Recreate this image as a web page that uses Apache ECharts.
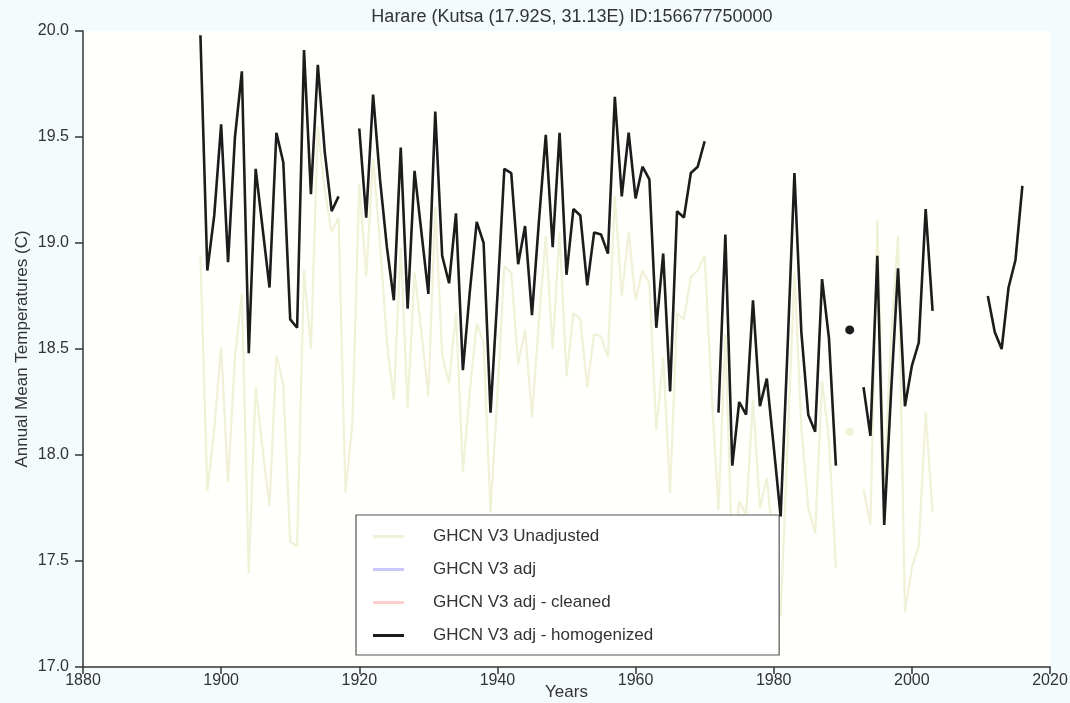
<!DOCTYPE html>
<html>
<head>
<meta charset="utf-8">
<title>Harare</title>
<script src="https://cdn.jsdelivr.net/npm/echarts@6/dist/echarts.min.js"></script>
<style>
  html, body { margin: 0; padding: 0; background: #f4fbfd; }
  #main { width: 1070px; height: 703px; }
</style>
</head>
<body>
<div id="main"></div>
<script>
// years 1897 .. 2016, null = no data
const firstYear = 1897;
const homogenized = [
  19.98, 18.87, 19.13, 19.56, 18.91, 19.50, 19.81, 18.48, 19.35, 19.07,
  18.79, 19.52, 19.38, 18.64, 18.60, 19.91, 19.23, 19.84, 19.43, 19.15,
  19.22, null, null, 19.54, 19.12, 19.70, 19.30, 18.98, 18.73, 19.45,
  18.69, 19.34, 19.05, 18.76, 19.62, 18.94, 18.81, 19.14, 18.40, 18.77,
  19.10, 19.00, 18.20, 18.75, 19.35, 19.33, 18.90, 19.08, 18.66, 19.10,
  19.51, 18.98, 19.52, 18.85, 19.16, 19.13, 18.80, 19.05, 19.04, 18.95,
  19.69, 19.22, 19.52, 19.21, 19.36, 19.30, 18.60, 18.95, 18.30, 19.15,
  19.12, 19.33, 19.36, 19.48, null, 18.20, 19.04, 17.95, 18.25, 18.19,
  18.73, 18.23, 18.36, 18.04, 17.71, 18.50, 19.33, 18.58, 18.19, 18.11,
  18.83, 18.55, 17.95, null, 18.59, null, 18.32, 18.09, 18.94, 17.67,
  18.30, 18.88, 18.23, 18.42, 18.53, 19.16, 18.68, null, null, null,
  null, null, null, null, 18.75, 18.58, 18.50, 18.79, 18.92, 19.27
];
const unadjusted = [
  18.94, 17.83, 18.12, 18.51, 17.87, 18.46, 18.76, 17.44, 18.32, 18.03,
  17.76, 18.47, 18.33, 17.59, 17.57, 18.87, 18.50, 19.55, 19.25, 19.05,
  19.12, 17.82, 18.15, 19.28, 18.84, 19.40, 19.00, 18.53, 18.26, 18.98,
  18.22, 18.86, 18.58, 18.28, 19.17, 18.47, 18.34, 18.67, 17.92, 18.30,
  18.62, 18.53, 17.73, 18.28, 18.89, 18.86, 18.43, 18.59, 18.18, 18.63,
  19.03, 18.50, 19.05, 18.37, 18.67, 18.64, 18.32, 18.57, 18.56, 18.46,
  19.22, 18.75, 19.05, 18.73, 18.87, 18.81, 18.12, 18.46, 17.82, 18.67,
  18.64, 18.84, 18.87, 18.94, 18.30, 17.74, 18.57, 17.49, 17.78, 17.72,
  18.26, 17.75, 17.89, 17.57, 17.24, 18.05, 18.86, 18.13, 17.75, 17.63,
  18.35, 18.07, 17.47, null, 18.11, null, 17.84, 17.67, 19.11, 17.84,
  18.57, 19.03, 17.26, 17.47, 17.57, 18.20, 17.73
];
const xTicks = [1880, 2020, 20];
const yTicks = [17, 20, 0.5];

const seriesNames = ['GHCN V3 Unadjusted', 'GHCN V3 adj', 'GHCN V3 adj - cleaned', 'GHCN V3 adj - homogenized'];
const seriesColors = ['#f1f1d8', '#c8c8ff', '#ffcfcf', '#1c1c1c'];

function pairs(arr) {
  return arr.map((v, i) => [firstYear + i, v]);
}
// points with no neighbour on either side are drawn as dots
function isolated(arr) {
  const out = [];
  arr.forEach((v, i) => {
    if (v == null) return;
    const prev = i > 0 ? arr[i - 1] : null;
    const next = i < arr.length - 1 ? arr[i + 1] : null;
    if (prev == null && next == null) out.push([firstYear + i, v]);
  });
  return out;
}

const chart = echarts.init(document.getElementById('main'));
const font = 'Liberation Sans, Arial, sans-serif';

chart.setOption({
  backgroundColor: '#f4fbfd',
  animation: false,
  title: {
    text: 'Harare (Kutsa (17.92S, 31.13E) ID:156677750000',
    left: 567,
    textAlign: 'center',
    top: 3,
    textStyle: { fontFamily: font, fontSize: 18, fontWeight: 'normal', color: '#333' }
  },
  grid: {
    left: 83, right: 20, top: 31, bottom: 36,
    outerBoundsMode: 'none',
    containLabel: false,
    show: true, backgroundColor: '#fffffc', borderWidth: 0
  },
  legend: {
    data: seriesNames,
    orient: 'vertical',
    left: 356,
    top: 515,
    padding: [13, 126, 11, 17],
    itemGap: 16,
    itemWidth: 31,
    itemHeight: 3,
    icon: 'rect',
    backgroundColor: '#ffffff',
    borderColor: '#555',
    borderWidth: 1.2,
    textStyle: { fontFamily: font, fontSize: 17, lineHeight: 17, color: '#333', padding: [0, 0, 0, 24] }
  },
  xAxis: {
    type: 'value',
    min: xTicks[0], max: xTicks[1], interval: xTicks[2],
    name: 'Years',
    nameLocation: 'middle',
    nameGap: 17,
    nameMoveOverlap: false,
    nameTextStyle: { fontFamily: font, fontSize: 17, color: '#333' },
    axisLine: { lineStyle: { color: '#333', width: 1.5 } },
    axisTick: { length: 7, lineStyle: { color: '#333', width: 1.5 } },
    axisLabel: { fontFamily: font, fontSize: 16, color: '#333', margin: 6, formatter: v => String(v) },
    splitLine: { show: false }
  },
  yAxis: {
    type: 'value',
    min: yTicks[0], max: yTicks[1], interval: yTicks[2],
    name: 'Annual Mean Temperatures (C)',
    nameLocation: 'middle',
    nameGap: 52,
    nameMoveOverlap: false,
    nameTextStyle: { fontFamily: font, fontSize: 17, color: '#333' },
    axisLine: { show: true, lineStyle: { color: '#333', width: 1.5 } },
    axisTick: { show: true, length: 8, lineStyle: { color: '#333', width: 1.5 } },
    axisLabel: { fontFamily: font, fontSize: 16, color: '#333', margin: 14, formatter: v => v.toFixed(1) },
    splitLine: { show: false }
  },
  series: [
    {
      name: seriesNames[0], type: 'line', data: pairs(unadjusted),
      showSymbol: false, connectNulls: false, z: 2,
      itemStyle: { color: seriesColors[0] },
      lineStyle: { color: seriesColors[0], width: 2.2 }
    },
    {
      name: seriesNames[1], type: 'line', data: [],
      showSymbol: false, itemStyle: { color: seriesColors[1] },
      lineStyle: { color: seriesColors[1], width: 2 }
    },
    {
      name: seriesNames[2], type: 'line', data: [],
      showSymbol: false, itemStyle: { color: seriesColors[2] },
      lineStyle: { color: seriesColors[2], width: 2 }
    },
    {
      name: seriesNames[3], type: 'line', data: pairs(homogenized),
      showSymbol: false, connectNulls: false, z: 5,
      itemStyle: { color: seriesColors[3] },
      lineStyle: { color: seriesColors[3], width: 2.6 }
    },
    {
      name: 'unadj-dots', type: 'scatter', data: isolated(unadjusted),
      symbolSize: 8, z: 2, itemStyle: { color: seriesColors[0], opacity: 1 }
    },
    {
      name: 'homog-dots', type: 'scatter', data: isolated(homogenized),
      symbolSize: 9, z: 5, itemStyle: { color: seriesColors[3], opacity: 1 }
    }
  ]
});
</script>
</body>
</html>
